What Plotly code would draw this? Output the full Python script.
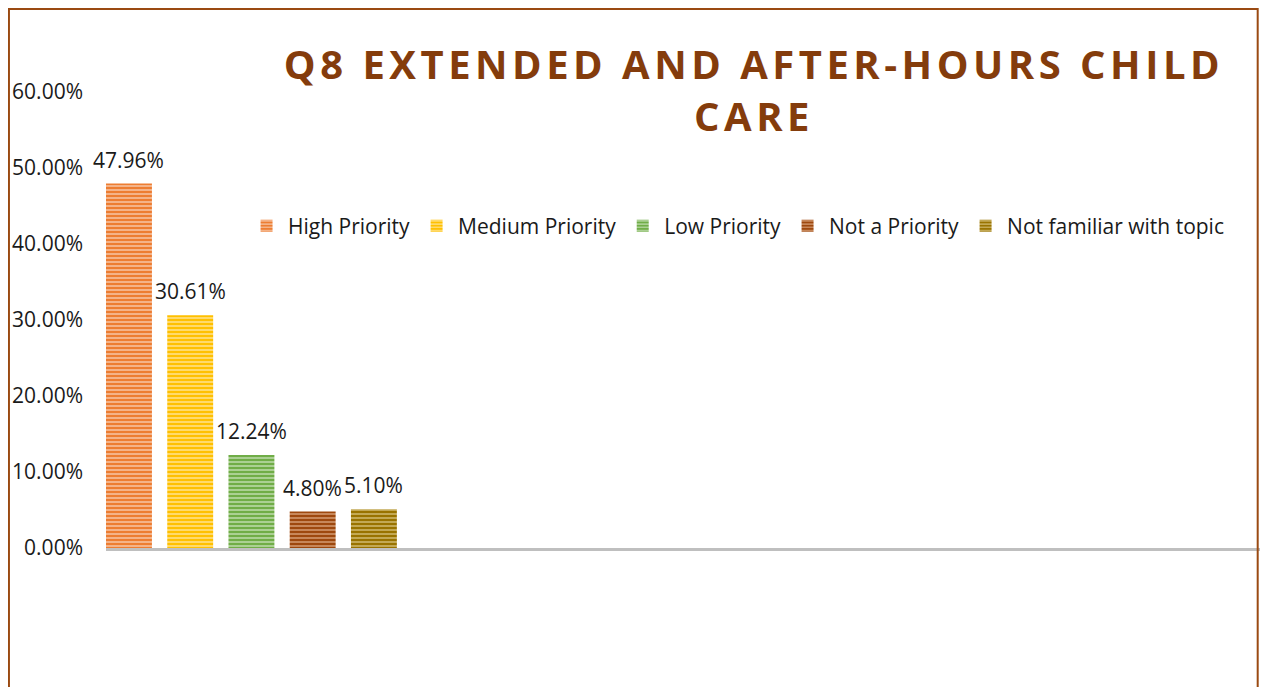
import plotly.graph_objects as go

# Data
categories = ["High Priority", "Medium Priority", "Low Priority", "Not a Priority", "Not familiar with topic"]
values = [0.4796, 0.3061, 0.1224, 0.0480, 0.0510]
labels = ["47.96%", "30.61%", "12.24%", "4.80%", "5.10%"]
tick_vals = [0, 0.1, 0.2, 0.3, 0.4, 0.5, 0.6]
tick_text = ["0.00%", "10.00%", "20.00%", "30.00%", "40.00%", "50.00%", "60.00%"]

# main colour / stripe tint per series
colors = ["#ED7D31", "#FFC000", "#70AD47", "#9E480E", "#997300"]
stripes = ["#F8CBAD", "#FFE699", "#C5E0B4", "#D9A27A", "#D6C07A"]

FONT = "Open Sans"
TITLE_COLOR = "#843C0C"
TEXT_COLOR = "#1a1a1a"

W, H = 1252, 679

fig = go.Figure()
for i, (cat, val) in enumerate(zip(categories, values)):
    fig.add_trace(go.Bar(
        x=[i],
        y=[val],
        name=cat,
        width=0.75,
        marker=dict(
            color=colors[i],
            line=dict(width=0),
            pattern=dict(shape="-", size=4, solidity=0.35,
                         fgcolor=stripes[i], bgcolor=colors[i],
                         fillmode="replace"),
        ),
        hovertemplate="%{y:.2%}<extra>" + cat + "</extra>",
    ))

# data labels above bars
for i, (val, lab) in enumerate(zip(values, labels)):
    fig.add_annotation(
        x=i, y=val, text=lab, showarrow=False,
        yanchor="bottom", yshift=8,
        font=dict(family=FONT, size=21, color=TEXT_COLOR),
    )

# brown chart-area border
fig.add_shape(
    type="rect", xref="paper", yref="paper",
    x0=-0.0841, x1=0.998, y0=-0.4, y1=1.182,
    line=dict(color="#9A4A12", width=2), fillcolor="rgba(0,0,0,0)",
    layer="above",
)

title_txt = ('<span style="letter-spacing:4.5px">Q8 EXTENDED AND AFTER-HOURS CHILD</span><br>'
             '<span style="letter-spacing:4.5px">CARE</span>')

fig.update_layout(
    width=W,
    height=H,
    paper_bgcolor="white",
    plot_bgcolor="white",
    margin=dict(l=98, r=0, t=84, b=H - 84 - 456),
    bargap=0.25,
    title=dict(
        text=title_txt,
        x=746 / W, xanchor="center",
        y=1 - 71 / H, yanchor="top",
        font=dict(family=FONT, size=40, color=TITLE_COLOR, weight="bold"),
    ),
    xaxis=dict(
        range=[-0.375, 18.47],
        showticklabels=False,
        showgrid=False,
        zeroline=False,
        showline=True,
        linecolor="#BFBFBF",
        linewidth=3,
        ticks="",
        fixedrange=True,
    ),
    yaxis=dict(
        range=[0, 0.6],
        tickvals=tick_vals,
        ticktext=tick_text,
        showgrid=False,
        zeroline=False,
        showline=False,
        ticks="",
        ticklabelstandoff=22,
        tickfont=dict(family=FONT, size=21, color=TEXT_COLOR),
    ),
    legend=dict(
        orientation="h",
        x=0.1205, xanchor="left",
        y=0.706, yanchor="middle",
        font=dict(family=FONT, size=21, color=TEXT_COLOR),
        itemwidth=33,
        tracegroupgap=0,
        bgcolor="rgba(0,0,0,0)",
    ),
    showlegend=True,
)

fig.write_html("out.html")
